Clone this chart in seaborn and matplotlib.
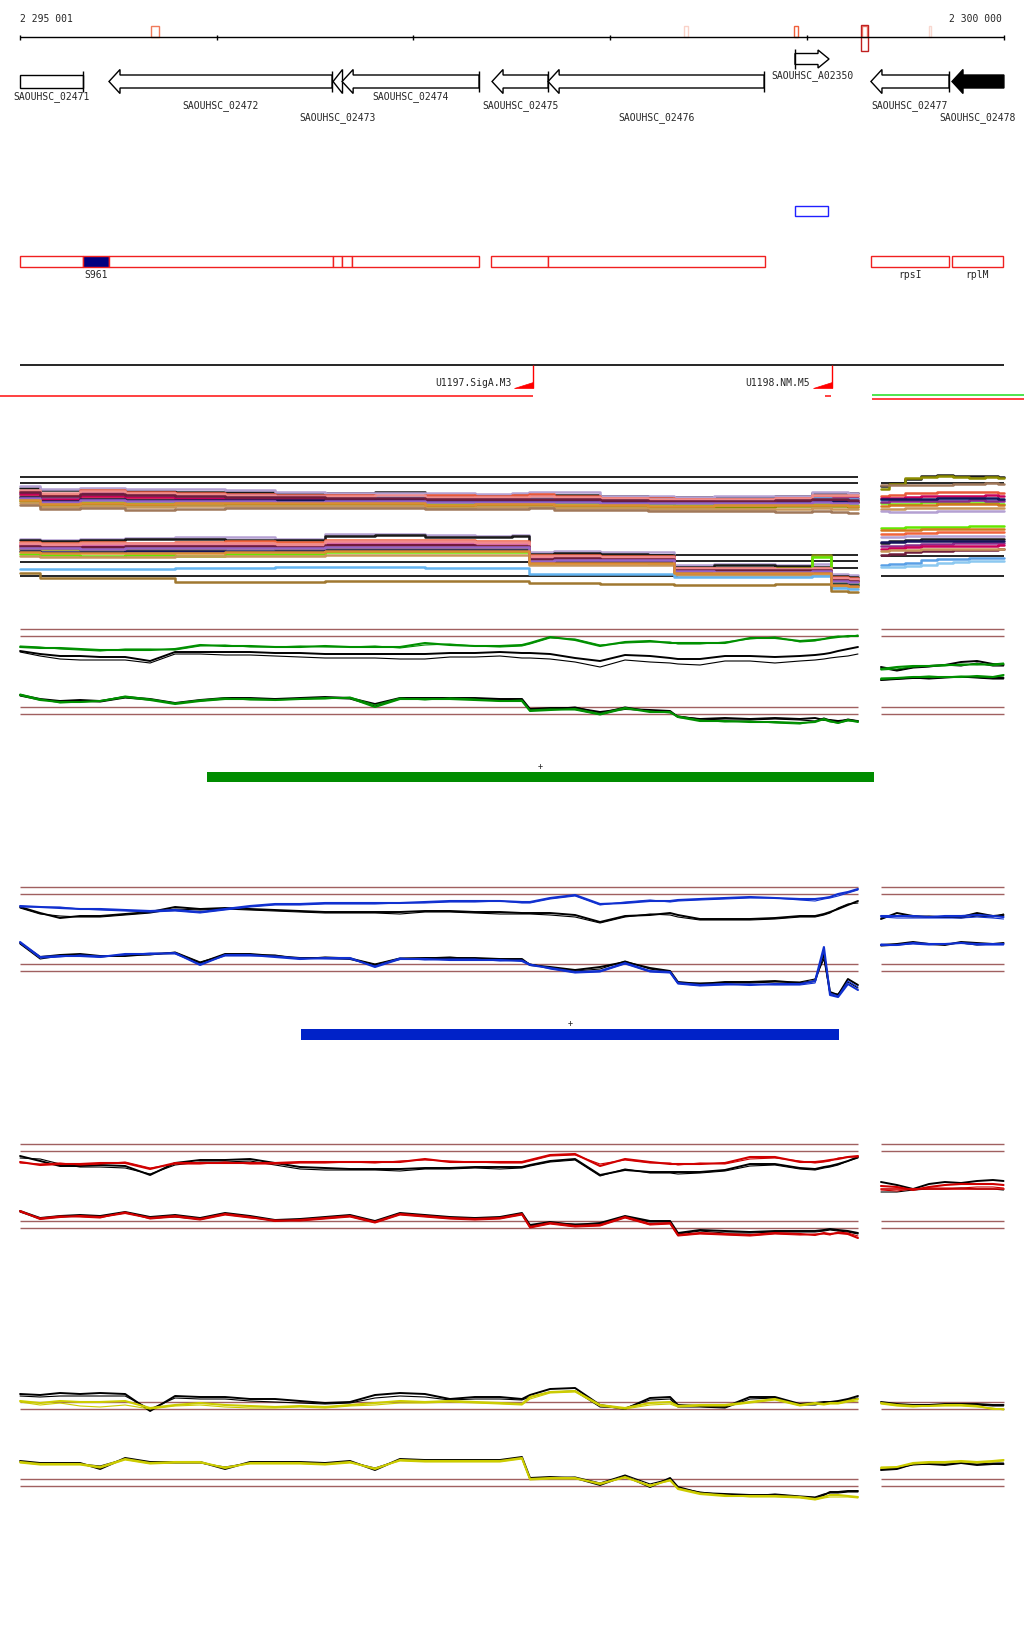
"""
Genome browser view, S. aureus NCTC 8325 region 2 295 001 - 2 300 000
Tracks: genes, annotation, terminators, tiling-array profiles
"""

import matplotlib
matplotlib.use('Agg')
import matplotlib.pyplot as plt
import seaborn as sns
from matplotlib.patches import Polygon, Rectangle

sns.set_theme(style='white')
plt.rcParams['font.family'] = ['DejaVu Sans Mono', 'DejaVu Sans']
plt.rcParams['font.size'] = 7

# ── CONFIG ──────────────────────────────────────────────────────────────────
FIG_W, FIG_H = 1024, 1640
VIEW        = (2294899, 2300104)          # visible window in bp
REGION      = (2295001, 2300000)
RULER_TICKS = [2295001, 2296000, 2297000, 2298000, 2299000, 2300000]
PANELS      = [(2295001, 2299260), (2299377, 2300000)]
REF_COLOR   = '#a06060'

# ── GENES ───────────────────────────────────────────────────────────────────
GENE_NAMES  = ['SAOUHSC_02471', 'SAOUHSC_02472', 'SAOUHSC_02473', 'SAOUHSC_02474',
               'SAOUHSC_02475', 'SAOUHSC_02476', 'SAOUHSC_A02350', 'SAOUHSC_02477',
               'SAOUHSC_02478']
GENE_START  = [2295001, 2295453, 2296592, 2296638, 2297400, 2297685, 2298940, 2299326, 2299738]
GENE_END    = [2295321, 2296587, 2296640, 2297334, 2297685, 2298783, 2299113, 2299723, 2300002]
GENE_STRAND = ['-', '-', '-', '-', '-', '-', '+', '-', '-']
GENE_HEAD   = [False, True, True, True, True, True, True, True, True]
GENE_TAIL   = [True, True, False, True, True, True, True, True, False]
GENE_FILLED = [False, False, False, False, False, False, False, False, True]
GENE_LANE   = [0, 0, 0, 0, 0, 0, 1, 0, 0]
GENE_LABROW = [97, 106, 118, 97, 106, 118, 76, 106, 118]

RULER_MARK_START = [2295667, 2298376, 2298935, 2299281, 2299621]
RULER_MARK_END   = [2295707, 2298396, 2298955, 2299306, 2299631]
RULER_MARK_COLOR = ['#f07a5a', '#fad2c8', '#f0603c', '#f08070', '#f8d8d0']
RULER_HIT = (2299278, 2299309)

# ── ANNOTATION ──────────────────────────────────────────────────────────────
ANNOT_START = [2295001, 2295321, 2295453, 2296592, 2296638, 2296688, 2297395, 2297685, 2299326, 2299738]
ANNOT_END   = [2295321, 2295453, 2296592, 2296638, 2296688, 2297334, 2297685, 2298788, 2299723, 2299997]
ANNOT_LABEL = ['', 'S961', '', '', '', '', '', '', 'rpsI', 'rplM']
ANNOT_BLUE  = (2298940, 2299108)

# ── TERMINATORS / OPERONS ───────────────────────────────────────────────────
TERM_POS   = [2297608, 2299128]
TERM_NAMES = ['U1197.SigA.M3', 'U1198.NM.M5']
OPERON_START = [2294899, 2299092, 2299331, 2299331]
OPERON_END   = [2297608, 2299123, 2300104, 2300104]
OPERON_COLOR = ['#ff2020', '#ff2020', '#30e030', '#ff2020']
OPERON_ROW   = [57, 57, 56, 60]

# ── PROFILE PROBES ──────────────────────────────────────────────────────────
POS_L = [2295001, 2295103, 2295204, 2295306, 2295408, 2295535, 2295662, 2295789, 2295916, 2296043,
         2296170, 2296297, 2296424, 2296551, 2296678, 2296805, 2296932, 2297059, 2297186, 2297313,
         2297440, 2297552, 2297593, 2297695, 2297822, 2297949, 2298076, 2298203, 2298305, 2298345,
         2298457, 2298584, 2298711, 2298838, 2298965, 2299042, 2299087, 2299118, 2299159, 2299209,
         2299260]
POS_R = [2299377, 2299458, 2299540, 2299621, 2299702, 2299784, 2299865, 2299946, 2300000]
POS_D = [2295001, 2295204, 2295408, 2295662, 2295916, 2296170, 2296424, 2296678, 2296932, 2297186,
         2297440, 2297568, 2297603, 2297822, 2298076, 2298305, 2298345, 2298711, 2298965, 2299087,
         2299159, 2299260]

# dense multi-condition profiles (two strands)
DENSE_UP_COLORS = ['#1a1a1a', '#b4a0d2', '#e8583a', '#8c2a8c', '#64b4f0', '#d2781e',
                   '#c8005a', '#64e600', '#8c8c00', '#c8965a', '#14145a', '#a0785a',
                   '#f08c8c', '#6e1e3c', '#9664c8', '#dc8c32']
DENSE_UP = [
    [111, 109, 106, 108, 107, 107, 106, 106, 107, 103, 104, 104, 104, 104, 103, 102, 102, 102, 103, 106, 106, 106],
    [113, 110, 111, 110, 110, 109, 107, 106, 106, 106, 105, 106, 107, 107, 103, 103, 102, 103, 103, 107, 107, 106],
    [108, 104, 109, 107, 106, 105, 104, 104, 103, 104, 103, 104, 105, 103, 101, 101, 100, 100, 101, 103, 103, 103],
    [106, 102, 107, 105, 104, 104, 103, 102, 102, 101, 101, 101, 101, 101, 100, 99, 99, 99, 100, 101, 101, 101],
    [104, 101, 104, 103, 103, 103, 102, 102, 103, 100, 100, 100, 101, 100, 100, 100, 99, 99, 99, 101, 100, 100],
    [103, 99, 101, 100, 100, 99, 100, 99, 99, 98, 98, 98, 98, 98, 97, 96, 97, 96, 97, 98, 97, 97],
    [105, 100, 103, 102, 101, 101, 101, 100, 100, 99, 99, 99, 99, 99, 98, 98, 98, 97, 98, 99, 99, 98],
    [100, 96, 97, 96, 97, 97, 98, 97, 97, 95, 96, 96, 97, 96, 95, 95, 94, 95, 95, 95, 95, 94],
    [98, 94, 95, 94, 94, 95, 95, 95, 95, 93, 94, 94, 94, 93, 93, 92, 92, 92, 93, 93, 93, 92],
    [96, 92, 93, 92, 93, 93, 93, 93, 93, 91, 92, 92, 92, 91, 91, 90, 90, 90, 90, 91, 90, 90],
    [102, 98, 100, 99, 99, 99, 99, 99, 100, 98, 98, 98, 98, 98, 97, 97, 97, 97, 97, 98, 98, 97],
    [94, 90, 91, 89, 90, 91, 91, 91, 91, 90, 90, 90, 91, 89, 89, 88, 88, 88, 87, 88, 87, 86],
    [109, 106, 108, 106, 105, 104, 103, 103, 104, 102, 102, 102, 103, 102, 101, 100, 100, 100, 101, 104, 104, 104],
    [107, 103, 105, 104, 103, 102, 102, 101, 101, 100, 100, 100, 100, 100, 99, 98, 98, 98, 99, 100, 100, 99],
    [101, 97, 99, 98, 98, 98, 97, 98, 98, 97, 97, 97, 97, 97, 96, 96, 96, 96, 96, 97, 96, 96],
    [99, 95, 96, 95, 96, 96, 96, 96, 96, 94, 95, 95, 95, 94, 94, 93, 93, 94, 94, 94, 94, 93],
]
DENSE_DN_COLORS = ['#b4a0d2', '#1a1a1a', '#f0643c', '#8c0050', '#d2781e', '#8c8c14',
                   '#64e600', '#e678b4', '#14145a', '#c8965a', '#64b4f0', '#a07830',
                   '#f08c8c', '#6e1e3c', '#9664c8', '#dc8c32']
DENSE_DN = [
    [60, 59, 60, 61, 62, 62, 60, 65, 65, 64, 63, 64, 47, 48, 47, 47, 34, 35, 34, 35, 25, 24],
    [59, 58, 59, 60, 60, 59, 59, 63, 64, 62, 62, 63, 45, 46, 45, 44, 32, 34, 33, 32, 23, 22],
    [57, 56, 57, 56, 57, 58, 57, 59, 59, 59, 58, 58, 44, 44, 43, 43, 31, 31, 31, 31, 22, 21],
    [54, 53, 53, 54, 54, 54, 53, 55, 55, 55, 54, 54, 41, 42, 41, 41, 29, 29, 29, 30, 20, 19],
    [52, 52, 51, 52, 52, 52, 52, 53, 53, 53, 53, 53, 39, 40, 40, 39, 28, 28, 28, 29, 18, 18],
    [50, 50, 49, 50, 50, 51, 50, 51, 51, 51, 51, 51, 38, 38, 38, 38, 30, 30, 31, 44, 17, 16],
    [45, 44, 43, 44, 43, 45, 45, 47, 47, 47, 47, 47, 36, 37, 37, 36, 27, 27, 27, 42, 16, 15],
    [55, 54, 55, 55, 55, 55, 54, 57, 57, 57, 56, 56, 42, 43, 42, 42, 30, 30, 30, 30, 21, 20],
    [48, 47, 47, 48, 48, 48, 48, 49, 49, 49, 49, 49, 37, 37, 37, 37, 26, 26, 26, 27, 15, 14],
    [43, 42, 42, 42, 43, 43, 43, 44, 44, 44, 44, 44, 34, 34, 34, 34, 24, 24, 24, 24, 13, 12],
    [30, 30, 30, 30, 31, 31, 32, 32, 32, 31, 31, 31, 25, 25, 25, 25, 22, 22, 22, 23, 11, 10],
    [26, 21, 21, 21, 17, 17, 17, 18, 18, 18, 18, 18, 16, 16, 15, 15, 14, 14, 15, 15, 8, 7],
    [56, 55, 56, 56, 56, 56, 55, 58, 58, 58, 57, 57, 43, 43, 42, 42, 31, 31, 30, 31, 21, 20],
    [53, 52, 52, 53, 53, 53, 52, 54, 54, 54, 53, 53, 40, 41, 40, 40, 29, 29, 29, 29, 19, 18],
    [51, 51, 50, 51, 51, 51, 51, 52, 52, 52, 52, 52, 38, 39, 39, 39, 28, 27, 27, 28, 18, 17],
    [47, 46, 46, 46, 46, 47, 47, 48, 48, 48, 48, 48, 36, 36, 36, 36, 26, 26, 26, 26, 14, 13],
]
DENSE_RUP_COLORS = ['#1a1a1a', '#8c8c00', '#a0785a', '#e8583a', '#c8005a', '#64b4f0',
                    '#64e600', '#d2781e', '#8c2a8c', '#c8965a', '#14145a', '#b4a0d2']
DENSE_RUP = [
    [113, 116, 120, 123, 124, 123, 123, 123, 122],
    [110, 115, 121, 122, 123, 122, 121, 122, 121],
    [114, 114, 114, 114, 114, 115, 115, 116, 115],
    [103, 104, 106, 106, 107, 107, 107, 107, 106],
    [101, 101, 102, 103, 103, 103, 103, 104, 103],
    [99, 99, 99, 99, 99, 99, 99, 99, 99],
    [96, 95, 95, 97, 96, 96, 96, 96, 95],
    [93, 94, 94, 94, 95, 95, 95, 95, 94],
    [97, 98, 98, 98, 98, 98, 99, 98, 98],
    [90, 90, 91, 91, 91, 91, 91, 91, 91],
    [100, 100, 100, 100, 101, 101, 101, 101, 100],
    [88, 87, 87, 87, 88, 88, 88, 88, 88],
]
DENSE_RDN_COLORS = ['#64e600', '#d2781e', '#f0643c', '#b4a0d2', '#1a1a1a', '#8c2a8c',
                    '#c8005a', '#6e1e3c', '#14145a', '#c8965a', '#5aa0e6', '#8cc8f0']
DENSE_RDN = [
    [71, 71, 72, 72, 72, 72, 73, 73, 73],
    [69, 69, 69, 70, 70, 70, 70, 70, 70],
    [65, 65, 66, 66, 67, 67, 67, 67, 67],
    [62, 62, 63, 63, 63, 63, 63, 63, 63],
    [56, 58, 59, 60, 60, 60, 60, 60, 60],
    [53, 53, 54, 55, 55, 56, 56, 56, 56],
    [50, 51, 52, 53, 53, 53, 53, 53, 54],
    [44, 45, 47, 48, 48, 49, 49, 49, 50],
    [57, 57, 58, 58, 58, 58, 58, 58, 58],
    [48, 49, 49, 50, 50, 50, 50, 50, 50],
    [34, 35, 36, 39, 40, 40, 41, 41, 41],
    [32, 32, 33, 34, 36, 37, 38, 38, 38],
]
DENSE_REF_START = [2295001, 2295001, 2295001, 2295001, 2297603, 2297603, 2298345, 2299377, 2299377, 2299377]
DENSE_REF_END   = [2299260, 2299260, 2297603, 2298345, 2299260, 2299260, 2299260, 2300000, 2300000, 2300000]
DENSE_REF_LEVEL = [122, 116, 37, 23, 44, 38, 31, 116, 43, 23]

# green condition
GREEN_REFS = [100, 93, 22, 15]
GREEN_UP_C1 = [82, 81, 81, 80, 79, 79, 79, 80, 84, 83, 83, 82, 82, 83, 82, 82, 82, 86, 84, 83,
               83, 84, 86, 92, 89, 83, 87, 88, 86, 86, 86, 86, 91, 91, 88, 89, 90, 91, 92, 93, 93]
GREEN_UP_C2 = [83, 82, 80, 79, 78, 80, 80, 79, 83, 84, 82, 82, 83, 82, 82, 83, 81, 84, 85, 83,
               82, 83, 85, 91, 90, 84, 86, 87, 87, 85, 85, 87, 90, 92, 87, 88, 90, 92, 93, 92, 94]
GREEN_UP_K1 = [78, 75, 73, 73, 72, 72, 68, 77, 77, 77, 77, 76, 76, 75, 75, 75, 75, 75, 76, 76,
               77, 76, 76, 75, 71, 68, 74, 73, 71, 70, 70, 73, 73, 72, 73, 74, 75, 76, 78, 80, 82]
GREEN_UP_K2 = [77, 73, 70, 69, 69, 69, 66, 75, 75, 74, 74, 73, 72, 71, 71, 71, 70, 70, 72, 72,
               73, 71, 71, 70, 67, 62, 69, 67, 66, 65, 64, 68, 68, 66, 68, 69, 70, 71, 72, 73, 75]
GREEN_DN_C1 = [34, 29, 27, 27, 28, 32, 29, 25, 28, 30, 30, 29, 30, 31, 31, 22, 30, 30, 30, 29,
               28, 28, 18, 19, 20, 15, 21, 17, 17, 12, 8, 8, 7, 7, 6, 7, 10, 8, 6, 9, 7]
GREEN_DN_C2 = [35, 30, 26, 27, 28, 33, 30, 26, 29, 31, 29, 29, 30, 30, 32, 24, 31, 29, 31, 30,
               28, 29, 19, 20, 19, 14, 20, 18, 16, 13, 9, 7, 8, 6, 5, 8, 9, 7, 6, 8, 8]
GREEN_DN_K1 = [34, 30, 28, 29, 28, 32, 30, 26, 29, 31, 31, 30, 31, 32, 31, 25, 31, 31, 31, 31,
               30, 30, 20, 21, 21, 17, 20, 19, 18, 12, 10, 11, 10, 11, 10, 11, 9, 9, 8, 9, 8]
GREEN_DN_K2 = [33, 29, 28, 28, 27, 31, 29, 26, 28, 30, 30, 30, 30, 31, 30, 23, 30, 31, 30, 30,
               29, 30, 19, 20, 22, 16, 22, 18, 17, 13, 10, 9, 9, 10, 9, 8, 11, 9, 7, 10, 8]
GREEN_RUP_C1 = [60, 62, 63, 63, 64, 64, 65, 64, 65]
GREEN_RUP_C2 = [59, 60, 62, 63, 63, 65, 64, 65, 66]
GREEN_RUP_K1 = [62, 59, 62, 63, 64, 67, 68, 65, 64]
GREEN_RUP_K2 = [61, 58, 61, 62, 64, 63, 66, 63, 63]
GREEN_RDN_C1 = [50, 51, 52, 52, 52, 52, 53, 52, 54]
GREEN_RDN_C2 = [51, 51, 52, 53, 52, 53, 52, 52, 53]
GREEN_RDN_K1 = [49, 50, 51, 51, 52, 52, 52, 51, 51]
GREEN_RDN_K2 = [49, 50, 51, 50, 51, 52, 51, 50, 50]
GREEN_BAR = (2295951, 2299341)

# blue condition
BLUE_REFS = [122, 115, 45, 38]
BLUE_UP_C1 = [103, 102, 101, 100, 100, 99, 98, 99, 97, 100, 103, 105, 105, 106, 106, 106, 106, 107, 108, 108,
              108, 107, 107, 111, 114, 105, 106, 108, 108, 109, 110, 111, 112, 111, 110, 110, 111, 112, 115, 117, 120]
BLUE_UP_C2 = [102, 102, 102, 100, 99, 98, 97, 98, 96, 99, 102, 104, 104, 105, 105, 105, 106, 106, 107, 107,
              108, 106, 106, 110, 113, 104, 107, 109, 107, 108, 109, 110, 111, 111, 109, 108, 110, 111, 113, 116, 119]
BLUE_UP_K1 = [102, 96, 91, 93, 93, 95, 97, 102, 100, 101, 100, 99, 98, 97, 97, 97, 97, 98, 98, 97,
              97, 96, 96, 96, 94, 87, 93, 94, 96, 94, 90, 90, 90, 91, 93, 93, 95, 97, 100, 104, 108]
BLUE_UP_K2 = [101, 95, 93, 92, 92, 94, 96, 100, 99, 100, 99, 98, 97, 96, 96, 96, 95, 97, 97, 96,
              95, 95, 95, 94, 92, 86, 92, 95, 94, 92, 89, 89, 89, 90, 92, 92, 94, 96, 101, 105, 106]
BLUE_DN_C1 = [67, 52, 53, 53, 52, 55, 55, 56, 44, 54, 54, 52, 50, 51, 51, 42, 50, 50, 49, 49,
              49, 48, 44, 41, 37, 38, 46, 38, 37, 26, 24, 25, 24, 25, 25, 28, 62, 14, 12, 25, 19]
BLUE_DN_C2 = [66, 51, 52, 54, 53, 54, 56, 55, 45, 53, 53, 53, 51, 50, 50, 43, 51, 49, 50, 50,
              48, 49, 45, 40, 36, 37, 45, 37, 36, 25, 23, 24, 25, 24, 24, 26, 58, 16, 13, 28, 22]
BLUE_DN_K1 = [66, 52, 54, 55, 53, 53, 55, 56, 46, 55, 55, 53, 51, 51, 50, 44, 50, 51, 51, 51,
              50, 50, 44, 42, 39, 42, 47, 41, 38, 27, 25, 27, 27, 28, 26, 28, 55, 17, 14, 30, 24]
BLUE_DN_K2 = [65, 50, 53, 54, 52, 54, 54, 57, 47, 54, 54, 54, 50, 52, 51, 45, 51, 51, 52, 50,
              49, 49, 45, 41, 38, 40, 48, 40, 37, 26, 26, 26, 26, 27, 27, 30, 50, 15, 15, 27, 21]
BLUE_RUP_C1 = [93, 93, 93, 92, 93, 93, 94, 93, 92]
BLUE_RUP_C2 = [92, 91, 91, 91, 91, 91, 92, 91, 90]
BLUE_RUP_K1 = [90, 96, 93, 92, 92, 92, 96, 93, 94]
BLUE_RUP_K2 = [91, 93, 92, 93, 92, 91, 93, 92, 95]
BLUE_RDN_C1 = [64, 64, 66, 65, 65, 66, 65, 65, 65]
BLUE_RDN_C2 = [65, 64, 65, 64, 65, 66, 64, 64, 64]
BLUE_RDN_K1 = [64, 65, 67, 65, 64, 67, 66, 65, 66]
BLUE_RDN_K2 = [63, 64, 66, 65, 65, 66, 64, 65, 65]
BLUE_BAR = (2296429, 2299164)

# red condition
RED_REFS = [95, 88, 18, 11]
RED_UP_C1 = [77, 74, 75, 75, 76, 76, 70, 76, 76, 76, 76, 76, 77, 77, 77, 77, 77, 80, 77, 77,
             77, 77, 79, 84, 85, 73, 80, 77, 75, 75, 75, 76, 82, 82, 77, 77, 78, 79, 80, 82, 83]
RED_UP_C2 = [76, 75, 76, 74, 75, 77, 71, 75, 75, 77, 75, 75, 76, 76, 77, 76, 78, 79, 78, 77,
             76, 76, 78, 83, 84, 75, 79, 76, 76, 74, 76, 75, 80, 81, 78, 76, 77, 78, 81, 82, 82]
RED_UP_K1 = [83, 78, 73, 73, 74, 73, 64, 76, 79, 79, 80, 76, 72, 71, 70, 70, 70, 71, 71, 72,
             72, 72, 74, 78, 80, 64, 69, 67, 67, 67, 67, 69, 75, 75, 71, 70, 72, 73, 75, 78, 82]
RED_UP_K2 = [81, 80, 75, 72, 72, 71, 65, 74, 77, 77, 78, 74, 70, 69, 69, 69, 68, 70, 70, 71,
             70, 71, 73, 77, 79, 63, 70, 66, 66, 65, 66, 68, 73, 74, 70, 69, 71, 72, 74, 78, 81]
RED_DN_C1 = [28, 20, 22, 23, 22, 26, 21, 23, 20, 25, 22, 18, 19, 21, 23, 17, 25, 23, 21, 20,
             21, 25, 12, 16, 13, 14, 22, 15, 16, 4, 6, 5, 4, 6, 5, 4, 6, 5, 6, 5, 1]
RED_DN_C2 = [27, 21, 23, 22, 21, 27, 20, 22, 19, 24, 21, 19, 18, 20, 22, 16, 24, 22, 20, 19,
             20, 24, 11, 15, 12, 13, 21, 14, 15, 3, 5, 4, 3, 5, 4, 5, 5, 4, 7, 6, 3]
RED_DN_K1 = [28, 21, 23, 24, 23, 27, 22, 24, 21, 26, 23, 19, 20, 22, 24, 18, 26, 24, 22, 21,
             22, 26, 14, 17, 14, 16, 23, 18, 18, 6, 9, 8, 7, 8, 8, 8, 9, 10, 9, 8, 6]
RED_DN_K2 = [27, 20, 22, 23, 22, 26, 21, 22, 20, 25, 22, 18, 19, 21, 23, 17, 25, 23, 21, 20,
             21, 25, 13, 16, 15, 15, 22, 17, 17, 5, 8, 6, 6, 7, 7, 7, 8, 9, 8, 7, 5]
RED_RUP_C1 = [53, 52, 49, 52, 54, 55, 55, 55, 54]
RED_RUP_C2 = [49, 48, 50, 51, 51, 51, 52, 52, 51]
RED_RUP_K1 = [57, 54, 50, 55, 57, 56, 58, 59, 58]
RED_RUP_K2 = [47, 47, 49, 50, 50, 51, 50, 50, 49]
RED_RFLAT  = [50, 50, 50, 50, 50, 50, 50, 50, 50]

# yellow condition
YEL_REFS = [107, 100, 30, 23]
YEL_UP_C1 = [108, 106, 108, 107, 107, 108, 101, 104, 106, 104, 103, 102, 103, 102, 104, 106, 108, 107, 108, 107,
             106, 105, 112, 117, 118, 104, 101, 106, 107, 103, 104, 104, 107, 110, 104, 106, 105, 106, 106, 108, 110]
YEL_UP_C2 = [107, 104, 106, 103, 102, 104, 100, 103, 104, 102, 101, 101, 102, 101, 103, 104, 106, 106, 107, 106,
             105, 104, 110, 116, 117, 103, 100, 104, 105, 102, 103, 103, 106, 109, 103, 105, 104, 105, 105, 107, 108]
YEL_UP_K1 = [115, 114, 116, 115, 116, 115, 98, 113, 112, 112, 110, 110, 108, 106, 107, 114, 116, 115, 110, 112,
             112, 110, 114, 120, 121, 104, 100, 111, 112, 104, 103, 102, 112, 112, 105, 106, 107, 107, 108, 110, 113]
YEL_UP_K2 = [113, 112, 113, 113, 113, 113, 100, 111, 110, 110, 108, 107, 106, 105, 106, 111, 113, 112, 109, 110,
             110, 109, 112, 117, 118, 102, 101, 109, 110, 102, 102, 101, 110, 111, 104, 104, 106, 106, 107, 109, 111]
YEL_DN_C1 = [47, 45, 45, 45, 42, 50, 46, 47, 47, 41, 46, 46, 46, 45, 47, 40, 49, 48, 48, 48,
             48, 51, 30, 31, 31, 25, 32, 23, 29, 20, 15, 13, 13, 13, 12, 10, 12, 14, 14, 13, 12]
YEL_DN_C2 = [46, 44, 44, 44, 41, 49, 45, 46, 46, 42, 45, 45, 45, 44, 46, 41, 48, 47, 47, 47,
             47, 50, 29, 30, 30, 26, 31, 24, 28, 21, 16, 14, 12, 12, 11, 9, 11, 12, 12, 12, 11]
YEL_DN_K1 = [48, 46, 46, 46, 40, 51, 47, 47, 47, 40, 47, 47, 47, 46, 48, 39, 50, 49, 49, 49,
             49, 52, 31, 32, 31, 24, 33, 22, 31, 22, 16, 15, 14, 14, 12, 11, 14, 17, 17, 18, 18]
YEL_DN_K2 = [47, 45, 45, 45, 43, 50, 46, 46, 46, 42, 46, 46, 46, 45, 47, 41, 49, 48, 48, 48,
             48, 51, 30, 31, 32, 26, 34, 25, 30, 21, 17, 14, 13, 15, 13, 12, 15, 16, 16, 17, 17]
YEL_RUP_C1 = [106, 104, 103, 103, 104, 104, 103, 100, 100]
YEL_RUP_C2 = [105, 103, 102, 103, 103, 103, 102, 101, 99]
YEL_RUP_K1 = [107, 105, 104, 104, 105, 105, 105, 104, 104]
YEL_RUP_K2 = [106, 104, 103, 104, 104, 104, 104, 103, 103]
YEL_RDN_C1 = [41, 42, 46, 47, 47, 48, 47, 48, 49]
YEL_RDN_C2 = [42, 42, 45, 46, 46, 47, 46, 47, 48]
YEL_RDN_K1 = [39, 40, 45, 45, 44, 46, 44, 45, 45]
YEL_RDN_K2 = [40, 41, 44, 45, 45, 46, 45, 46, 46]

GREEN, BLUE, RED, YELLOW = '#009000', '#1030d0', '#d00000', '#cccc00'

# ── FIGURE ──────────────────────────────────────────────────────────────────
fig = plt.figure(figsize=(FIG_W / 100, FIG_H / 100), dpi=100)
fig.patch.set_facecolor('white')


def band_axes(y0, y1, ylim):
    ax = fig.add_axes([0, 1 - y1 / FIG_H, 1, (y1 - y0) / FIG_H])
    ax.set_xlim(VIEW)
    ax.set_ylim(ylim)
    ax.axis('off')
    return ax


def trace(ax, pos, vals, color, lw, steps=False):
    sns.lineplot(x=pos, y=vals, color=color, linewidth=lw, estimator=None,
                 legend=False, ax=ax, drawstyle='steps-mid' if steps else 'default')


# ── RULER + GENES ───────────────────────────────────────────────────────────
ax = band_axes(0, 130, (130, 0))
ax.hlines(38, *REGION, color='black', lw=1)
ax.vlines(RULER_TICKS, 35.5, 41, color='black', lw=1)
ax.text(REGION[0], 19, '2 295 001', ha='left', va='center')
ax.text(REGION[1] - 10, 19, '2 300 000', ha='right', va='center')
for s, e, c in zip(RULER_MARK_START, RULER_MARK_END, RULER_MARK_COLOR):
    ax.add_patch(Rectangle((s, 27), e - s, 11, fill=False, ec=c, lw=1))
ax.add_patch(Rectangle((RULER_HIT[0], 26), RULER_HIT[1] - RULER_HIT[0], 26,
                       fill=False, ec='#c02020', lw=1))

LANE_Y = {0: (82.5, 6.5, 12.0, 10.5), 1: (60.0, 5.5, 9.0, 10.0)}
HEAD_BP = 56
for name, s, e, strand, head, tail, filled, lane, lrow in zip(
        GENE_NAMES, GENE_START, GENE_END, GENE_STRAND, GENE_HEAD, GENE_TAIL,
        GENE_FILLED, GENE_LANE, GENE_LABROW):
    cy, bh, hh, th = LANE_Y[lane]
    hl = min(HEAD_BP, e - s)
    if not head:
        pts = [(s, cy - bh), (e, cy - bh), (e, cy + bh), (s, cy + bh)]
    elif strand == '-':
        pts = [(s, cy), (s + hl, cy - hh), (s + hl, cy - bh), (e, cy - bh),
               (e, cy + bh), (s + hl, cy + bh), (s + hl, cy + hh)]
    else:
        pts = [(e, cy), (e - hl, cy - hh), (e - hl, cy - bh), (s, cy - bh),
               (s, cy + bh), (e - hl, cy + bh), (e - hl, cy + hh)]
    ax.add_patch(Polygon(pts, closed=True, fc='black' if filled else 'white',
                         ec='black', lw=1))
    if tail:
        tx = e if strand == '-' else s
        ax.vlines(tx, cy - th, cy + th, color='black', lw=1)
    ax.text((s + e) / 2, lrow, name, ha='center', va='center')

# ── ANNOTATION ──────────────────────────────────────────────────────────────
ax = band_axes(190, 290, (100, 0))
ax.add_patch(Rectangle((ANNOT_BLUE[0], 17), ANNOT_BLUE[1] - ANNOT_BLUE[0], 10,
                       fill=False, ec='#2020ff', lw=1))
for s, e, lab in zip(ANNOT_START, ANNOT_END, ANNOT_LABEL):
    face = '#000080' if lab == 'S961' else 'white'
    ax.add_patch(Rectangle((s, 67), e - s, 11, fc=face, ec='#f02020', lw=1))
    if lab:
        ax.text((s + e) / 2, 85.5, lab, ha='center', va='center')

# ── TERMINATORS ─────────────────────────────────────────────────────────────
ax = band_axes(340, 410, (70, 0))
ax.hlines(26, *REGION, color='black', lw=1.2)
for p, name in zip(TERM_POS, TERM_NAMES):
    ax.vlines(p, 26, 49, color='#ff0000', lw=1)
    ax.add_patch(Polygon([(p - 97, 49), (p, 49), (p, 43)], closed=True,
                         fc='#ff0000', ec='#ff0000', lw=0.5))
    ax.text(p - 110, 43.5, name, ha='right', va='center')
for s, e, c, r in zip(OPERON_START, OPERON_END, OPERON_COLOR, OPERON_ROW):
    ax.hlines(r, s, e, color=c, lw=1.2)

# ── DENSE PROFILES ──────────────────────────────────────────────────────────
ax = band_axes(470, 600, (0, 130))
for s, e, lv in zip(DENSE_REF_START, DENSE_REF_END, DENSE_REF_LEVEL):
    ax.hlines(lv, s, e, color='black', lw=1.2)
for vals, c in zip(DENSE_UP, DENSE_UP_COLORS):
    trace(ax, POS_D, vals, c, 1.8, steps=True)
for vals, c in zip(DENSE_DN, DENSE_DN_COLORS):
    trace(ax, POS_D, vals, c, 1.8, steps=True)
for vals, c in zip(DENSE_RUP, DENSE_RUP_COLORS):
    trace(ax, POS_R, vals, c, 1.8, steps=True)
for vals, c in zip(DENSE_RDN, DENSE_RDN_COLORS):
    trace(ax, POS_R, vals, c, 1.8, steps=True)
ax.set_xlim(VIEW)
ax.set_ylim(0, 130)


# ── STRAND PAIR SECTIONS ────────────────────────────────────────────────────
def strand_section(y0, y1, refs, color, left, right):
    ax = band_axes(y0, y1, (0, y1 - y0))
    for lv in refs:
        for s, e in PANELS:
            ax.hlines(lv, s, e, color=REF_COLOR, lw=1)
    for pos, sets in ((POS_L, left), (POS_R, right)):
        for vals, c, lw in sets:
            trace(ax, pos, vals, c, lw)
    ax.set_xlim(VIEW)
    ax.set_ylim(0, y1 - y0)
    return ax


def pair(c1, c2, k1, k2, color):
    return [(k1, 'black', 1.4), (k2, 'black', 0.8), (c1, color, 1.5), (c2, color, 0.8)]


strand_section(620, 730, GREEN_REFS, GREEN,
               pair(GREEN_UP_C1, GREEN_UP_C2, GREEN_UP_K1, GREEN_UP_K2, GREEN)
               + pair(GREEN_DN_C1, GREEN_DN_C2, GREEN_DN_K1, GREEN_DN_K2, GREEN),
               pair(GREEN_RUP_C1, GREEN_RUP_C2, GREEN_RUP_K1, GREEN_RUP_K2, GREEN)
               + pair(GREEN_RDN_C1, GREEN_RDN_C2, GREEN_RDN_K1, GREEN_RDN_K2, GREEN))

strand_section(880, 1010, BLUE_REFS, BLUE,
               pair(BLUE_UP_C1, BLUE_UP_C2, BLUE_UP_K1, BLUE_UP_K2, BLUE)
               + pair(BLUE_DN_C1, BLUE_DN_C2, BLUE_DN_K1, BLUE_DN_K2, BLUE),
               pair(BLUE_RUP_C1, BLUE_RUP_C2, BLUE_RUP_K1, BLUE_RUP_K2, BLUE)
               + pair(BLUE_RDN_C1, BLUE_RDN_C2, BLUE_RDN_K1, BLUE_RDN_K2, BLUE))

strand_section(1140, 1240, RED_REFS, RED,
               pair(RED_UP_C1, RED_UP_C2, RED_UP_K1, RED_UP_K2, RED)
               + pair(RED_DN_C1, RED_DN_C2, RED_DN_K1, RED_DN_K2, RED),
               pair(RED_RUP_C1, RED_RUP_C2, RED_RUP_K1, RED_RUP_K2, RED)
               + [(RED_RFLAT, RED, 1.2)])

strand_section(1380, 1510, YEL_REFS, YELLOW,
               pair(YEL_UP_C1, YEL_UP_C2, YEL_UP_K1, YEL_UP_K2, YELLOW)
               + pair(YEL_DN_C1, YEL_DN_C2, YEL_DN_K1, YEL_DN_K2, YELLOW),
               pair(YEL_RUP_C1, YEL_RUP_C2, YEL_RUP_K1, YEL_RUP_K2, YELLOW)
               + pair(YEL_RDN_C1, YEL_RDN_C2, YEL_RDN_K1, YEL_RDN_K2, YELLOW))

# ── TRANSCRIPT BARS ─────────────────────────────────────────────────────────
for (y0, y1), bar, c, cy, h, py in (((760, 790), GREEN_BAR, '#008c00', 18, 10, 6.5),
                                    ((1015, 1045), BLUE_BAR, '#0022c8', 20.5, 11, 8)):
    ax = band_axes(y0, y1, (y1 - y0, 0))
    ax.barh(cy, bar[1] - bar[0], left=bar[0], height=h, color=c, lw=0)
    ax.text((bar[0] + bar[1]) / 2, py, '+', ha='center', va='center', fontsize=6)
    ax.set_xlim(VIEW)
    ax.set_ylim(y1 - y0, 0)

fig.savefig('out.png', dpi=100, facecolor='white')
print("Saved: out.png")
